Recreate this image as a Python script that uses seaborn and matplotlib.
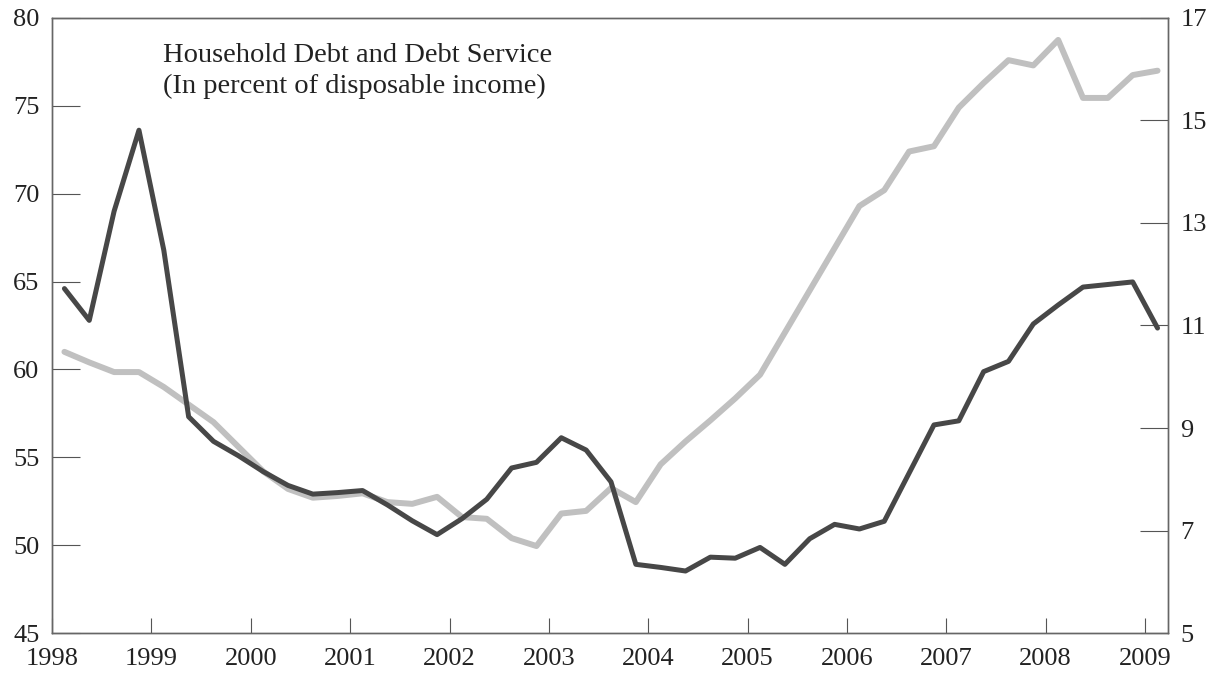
import matplotlib
matplotlib.use('Agg')
import pandas as pd
import matplotlib.pyplot as plt
import seaborn as sns

# quarterly data, 1998Q1 - 2009Q1
quarters = pd.period_range('1998Q1', '2009Q1', freq='Q')

# household debt, left axis (light grey)
debt = [61.0, 60.4, 59.85, 59.85,
        59.0, 58.0, 57.0, 55.6,
        54.2, 53.2, 52.7, 52.8,
        52.95, 52.45, 52.35, 52.75,
        51.6, 51.5, 50.4, 49.95,
        51.8, 51.95, 53.25, 52.45,
        54.6, 55.9, 57.1, 58.35,
        59.7, 62.1, 64.5, 66.9,
        69.3, 70.2, 72.4, 72.7,
        74.9, 76.3, 77.6, 77.3,
        78.75, 75.45, 75.45, 76.75,
        77.0]

# debt service, right axis (dark grey)
debt_service = [11.72, 11.10, 13.23, 14.81,
                12.47, 9.22, 8.74, 8.46,
                8.15, 7.88, 7.71, 7.74,
                7.78, 7.50, 7.19, 6.92,
                7.23, 7.61, 8.22, 8.33,
                8.81, 8.57, 7.95, 6.34,
                6.28, 6.21, 6.48, 6.46,
                6.67, 6.34, 6.84, 7.12,
                7.03, 7.18, 8.12, 9.06,
                9.14, 10.10, 10.30, 11.03,
                11.40, 11.75, 11.80, 11.85,
                10.95]

years = list(range(1998, 2010))
left_ticks = list(range(45, 81, 5))
right_ticks = list(range(5, 18, 2))

df = pd.DataFrame({'quarter': quarters, 'debt': debt, 'service': debt_service})
df['t'] = df['quarter'].dt.year + (df['quarter'].dt.quarter - 0.5) / 4

sns.set_style('ticks')
plt.rcParams['font.family'] = ['Liberation Serif', 'DejaVu Serif']

fig = plt.figure(figsize=(12.15, 6.73), dpi=100)
ax = fig.add_axes([0.0428, 0.0594, 0.9185, 0.9139])
ax2 = ax.twinx()

sns.lineplot(data=df, x='t', y='debt', ax=ax, color='#c0c0c0', lw=4.3)
sns.lineplot(data=df, x='t', y='service', ax=ax2, color='#474747', lw=3.6)

ax.set_xlim(1998, 2009.23)
ax.set_ylim(45, 80)
ax2.set_ylim(5, 17)
ax.set_xticks(years)
ax.set_yticks(left_ticks)
ax2.set_yticks(right_ticks)

for a in (ax, ax2):
    a.set_xlabel('')
    a.set_ylabel('')
    for s in a.spines.values():
        s.set_visible(True)
        s.set_color('#666666')
        s.set_linewidth(1.0)

ax.tick_params(axis='y', direction='in', length=20, width=0.8, color='#555555',
               labelsize=19, pad=9, labelcolor='#222222')
ax.tick_params(axis='x', direction='in', length=11, width=0.8, color='#555555',
               labelsize=19, pad=11, labelcolor='#222222')
ax2.tick_params(axis='y', direction='in', length=20, width=0.8, color='#555555',
                labelsize=19, pad=9, labelcolor='#222222')

ax.text(0.0995, 0.929, 'Household Debt and Debt Service', transform=ax.transAxes,
        ha='left', va='baseline', fontsize=20.5, color='#222222')
ax.text(0.0995, 0.878, '(In percent of disposable income)', transform=ax.transAxes,
        ha='left', va='baseline', fontsize=20.5, color='#222222')

fig.savefig('out.png', dpi=100)
